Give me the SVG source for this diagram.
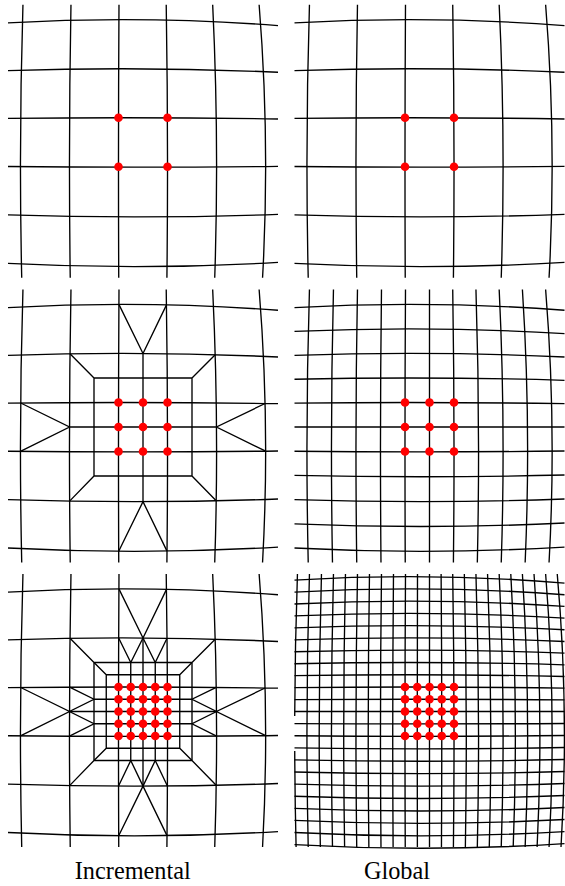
<svg xmlns="http://www.w3.org/2000/svg" width="565" height="886" viewBox="0 0 565 886">
<style>
.mesh{fill:none;stroke:#000;stroke-width:1.35}
.nd{fill:#f00;stroke:none}
.lbl{font-family:"Liberation Serif","Times New Roman",serif;font-size:24.3px;fill:#000;text-anchor:middle}
</style>
<defs>
<path id="hT" d="M-135 0.975Q0 1.036 135 0.953" vector-effect="non-scaling-stroke"/>
<path id="hB" d="M-135 0.988Q0 1.046 135 0.98" vector-effect="non-scaling-stroke"/>
<path id="vL" d="M0.98 -137.5Q1.015 -1 0.99 135.5" vector-effect="non-scaling-stroke"/>
<path id="vR" d="M0.948 -137.5Q1.038 -1 0.976 135.5" vector-effect="non-scaling-stroke"/>
<path id="h0" d="M-135 0H135"/>
<path id="v0" d="M0 -137.5V135.5"/>
<g id="coarse">
<use href="#hT" transform="scale(1,-122.5)"/>
<use href="#hT" transform="scale(1,-73.5)"/>
<use href="#hT" transform="scale(1,-24.5)"/>
<use href="#hB" transform="scale(1,24.5)"/>
<use href="#hB" transform="scale(1,73.5)"/>
<use href="#hB" transform="scale(1,122.5)"/>
<use href="#vL" transform="scale(-122.5,1)"/>
<use href="#vL" transform="scale(-73.5,1)"/>
<use href="#vL" transform="scale(-24.5,1)"/>
<use href="#vR" transform="scale(24.5,1)"/>
<use href="#vR" transform="scale(73.5,1)"/>
<use href="#vR" transform="scale(122.5,1)"/>
</g>
<path id="ref2" d="M0 -73.5V74.6M-73.5 0H73.5M-24.1 -122.6L0 -73.5L23.5 -122.1M-24.3 124.3L0 74.6L24 124.1M-122.3 -24L-73.5 0L-122.55 24.33M122.1 -23.5L73.5 0L122.7 24.15M-49 -49H49V49H-49ZM-49 -49L-73 -73.2M49 -49L72.2 -72.3M-49 49L-73.4 74.1M49 49L73.2 73.8"/>
<path id="ref3" d="M-36.75 -36.75H36.75V36.75H-36.75ZM-36.75 -36.75L-49 -49M36.75 -36.75L49 -49M-36.75 36.75L-49 49M36.75 36.75L49 49M-12.25 -49V49M12.25 -49V49M-49 -12.25H49M-49 12.25H49M-24.33 -73.56L-12.25 -49L0 -73.5L12.25 -49L24.05 -73.26M-24.46 74.58L-12.25 49L0 74.6L12.25 49L24.41 74.47M-73.4 -24.39L-49 -12.25L-73.5 0L-49 12.25L-73.53 24.7M73.24 -24.09L49 -12.25L73.5 0L49 12.25L73.6 24.59"/>
<g id="nodes1">
<circle class="nd" cx="-24.5" cy="-24.5" r="4.3"/><circle class="nd" cx="24.5" cy="-24.5" r="4.3"/>
<circle class="nd" cx="-24.5" cy="24.5" r="4.3"/><circle class="nd" cx="24.5" cy="24.5" r="4.3"/>
</g>
<g id="nodes2">
<circle class="nd" cx="-24.5" cy="-24.5" r="4.3"/><circle class="nd" cx="0" cy="-24.5" r="4.3"/><circle class="nd" cx="24.5" cy="-24.5" r="4.3"/>
<circle class="nd" cx="-24.5" cy="0" r="4.3"/><circle class="nd" cx="0" cy="0" r="4.3"/><circle class="nd" cx="24.5" cy="0" r="4.3"/>
<circle class="nd" cx="-24.5" cy="24.5" r="4.3"/><circle class="nd" cx="0" cy="24.5" r="4.3"/><circle class="nd" cx="24.5" cy="24.5" r="4.3"/>
</g>
<g id="nodes3">
<circle class="nd" cx="-24.5" cy="-24.5" r="4.3"/><circle class="nd" cx="-12.25" cy="-24.5" r="4.3"/><circle class="nd" cx="0" cy="-24.5" r="4.3"/><circle class="nd" cx="12.25" cy="-24.5" r="4.3"/><circle class="nd" cx="24.5" cy="-24.5" r="4.3"/>
<circle class="nd" cx="-24.5" cy="-12.25" r="4.3"/><circle class="nd" cx="-12.25" cy="-12.25" r="4.3"/><circle class="nd" cx="0" cy="-12.25" r="4.3"/><circle class="nd" cx="12.25" cy="-12.25" r="4.3"/><circle class="nd" cx="24.5" cy="-12.25" r="4.3"/>
<circle class="nd" cx="-24.5" cy="0" r="4.3"/><circle class="nd" cx="-12.25" cy="0" r="4.3"/><circle class="nd" cx="0" cy="0" r="4.3"/><circle class="nd" cx="12.25" cy="0" r="4.3"/><circle class="nd" cx="24.5" cy="0" r="4.3"/>
<circle class="nd" cx="-24.5" cy="12.25" r="4.3"/><circle class="nd" cx="-12.25" cy="12.25" r="4.3"/><circle class="nd" cx="0" cy="12.25" r="4.3"/><circle class="nd" cx="12.25" cy="12.25" r="4.3"/><circle class="nd" cx="24.5" cy="12.25" r="4.3"/>
<circle class="nd" cx="-24.5" cy="24.5" r="4.3"/><circle class="nd" cx="-12.25" cy="24.5" r="4.3"/><circle class="nd" cx="0" cy="24.5" r="4.3"/><circle class="nd" cx="12.25" cy="24.5" r="4.3"/><circle class="nd" cx="24.5" cy="24.5" r="4.3"/>
</g>
</defs>
<rect width="565" height="886" fill="#fff"/>
<g id="incremental-1" transform="translate(143,142.3)">
<g class="mesh"><use href="#coarse"/></g>
<use href="#nodes1"/>
</g>
<g id="global-1" transform="translate(429.5,142.3)">
<g class="mesh"><use href="#coarse"/></g>
<use href="#nodes1"/>
</g>
<g id="incremental-2" transform="translate(143,427)">
<g class="mesh"><use href="#coarse"/><use href="#ref2"/></g>
<use href="#nodes2"/>
</g>
<g id="global-2" transform="translate(429.5,427)">
<g class="mesh">
<use href="#hT" transform="scale(1,-122.5)"/><use href="#hT" transform="scale(1,-98)"/><use href="#hT" transform="scale(1,-73.5)"/><use href="#hT" transform="scale(1,-49)"/><use href="#hT" transform="scale(1,-24.5)"/>
<use href="#h0"/>
<use href="#hB" transform="scale(1,24.5)"/><use href="#hB" transform="scale(1,49)"/><use href="#hB" transform="scale(1,73.5)"/><use href="#hB" transform="scale(1,98)"/><use href="#hB" transform="scale(1,122.5)"/>
<use href="#vL" transform="scale(-122.5,1)"/><use href="#vL" transform="scale(-98,1)"/><use href="#vL" transform="scale(-73.5,1)"/><use href="#vL" transform="scale(-49,1)"/><use href="#vL" transform="scale(-24.5,1)"/>
<use href="#v0"/>
<use href="#vR" transform="scale(24.5,1)"/><use href="#vR" transform="scale(49,1)"/><use href="#vR" transform="scale(73.5,1)"/><use href="#vR" transform="scale(98,1)"/><use href="#vR" transform="scale(122.5,1)"/>
</g>
<use href="#nodes2"/>
</g>
<g id="incremental-3" transform="translate(143,711.5)">
<g class="mesh"><use href="#coarse"/><use href="#ref2"/><use href="#ref3"/></g>
<use href="#nodes3"/>
</g>
<g id="global-3" transform="translate(429.5,711.5)">
<g class="mesh">
<use href="#hT" transform="scale(1,-134.75)"/><use href="#hT" transform="scale(1,-122.5)"/><use href="#hT" transform="scale(1,-110.25)"/><use href="#hT" transform="scale(1,-98)"/><use href="#hT" transform="scale(1,-85.75)"/><use href="#hT" transform="scale(1,-73.5)"/><use href="#hT" transform="scale(1,-61.25)"/><use href="#hT" transform="scale(1,-49)"/><use href="#hT" transform="scale(1,-36.75)"/><use href="#hT" transform="scale(1,-24.5)"/><use href="#hT" transform="scale(1,-12.25)"/>
<use href="#h0"/>
<use href="#hB" transform="scale(1,12.25)"/><use href="#hB" transform="scale(1,24.5)"/><use href="#hB" transform="scale(1,36.75)"/><use href="#hB" transform="scale(1,49)"/><use href="#hB" transform="scale(1,61.25)"/><use href="#hB" transform="scale(1,73.5)"/><use href="#hB" transform="scale(1,85.75)"/><use href="#hB" transform="scale(1,98)"/><use href="#hB" transform="scale(1,110.25)"/><use href="#hB" transform="scale(1,122.5)"/><use href="#hB" transform="scale(1,134.75)"/>
<path d="M-132.06 -137.5Q-134.51 -66.5 -134.78 4.5M-134.77 39.5Q-134.58 87.5 -133.4 135.5"/>
<use href="#vL" transform="scale(-122.5,1)"/><use href="#vL" transform="scale(-110.25,1)"/><use href="#vL" transform="scale(-98,1)"/><use href="#vL" transform="scale(-85.75,1)"/><use href="#vL" transform="scale(-73.5,1)"/><use href="#vL" transform="scale(-61.25,1)"/><use href="#vL" transform="scale(-49,1)"/><use href="#vL" transform="scale(-36.75,1)"/><use href="#vL" transform="scale(-24.5,1)"/><use href="#vL" transform="scale(-12.25,1)"/>
<use href="#v0"/>
<use href="#vR" transform="scale(12.25,1)"/><use href="#vR" transform="scale(24.5,1)"/><use href="#vR" transform="scale(36.75,1)"/><use href="#vR" transform="scale(49,1)"/><use href="#vR" transform="scale(61.25,1)"/><use href="#vR" transform="scale(73.5,1)"/><use href="#vR" transform="scale(85.75,1)"/><use href="#vR" transform="scale(98,1)"/><use href="#vR" transform="scale(110.25,1)"/><use href="#vR" transform="scale(122.5,1)"/><use href="#vR" transform="scale(134.75,1)"/>
</g>
<use href="#nodes3"/>
</g>
<g id="labels">
<text class="lbl" x="132.8" y="879.3">Incremental</text>
<text class="lbl" x="397" y="879.3">Global</text>
</g>
</svg>
